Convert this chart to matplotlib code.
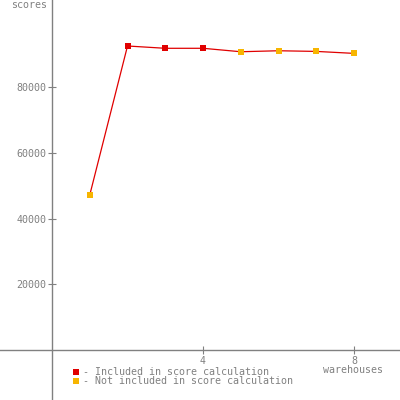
import matplotlib

matplotlib.use("Agg")
import matplotlib.pyplot as plt  # noqa: E402
from matplotlib.lines import Line2D  # noqa: E402

warehouses = [1, 2, 3, 4, 5, 6, 7, 8]
scores = [47200, 92600, 91900, 91900, 90850, 91150, 90950, 90350]
included = [False, True, True, True, False, False, False, False]

y_ticks = [20000, 40000, 60000, 80000]
x_ticks = [4, 8]

RED = "#e00000"
ORANGE = "#f7b500"
GRAY = "#808080"
FONT = "DejaVu Sans Mono"
FS = 7.2

fig = plt.figure(figsize=(4, 4), dpi=100)
ax = fig.add_axes([0, 0, 1, 1])
ax.set_xlim(-52 / 37.75, 348 / 37.75)
ax.set_ylim(-50 / 3.283 * 1000, 350 / 3.283 * 1000)

ax.plot(warehouses, scores, color=RED, lw=0.9, zorder=2)
for x, y, inc in zip(warehouses, scores, included):
    ax.plot(x, y, marker="s", ms=4.2, mew=0, color=RED if inc else ORANGE, zorder=3)

for side in ("top", "right"):
    ax.spines[side].set_visible(False)
for side in ("left", "bottom"):
    ax.spines[side].set_position("zero")
    ax.spines[side].set_color(GRAY)
    ax.spines[side].set_linewidth(1.0)

ax.set_yticks(y_ticks)
ax.set_yticklabels([str(v) for v in y_ticks], family=FONT, fontsize=FS, color=GRAY)
ax.set_xticks(x_ticks)
ax.set_xticklabels([str(v) for v in x_ticks], family=FONT, fontsize=FS, color=GRAY)
ax.tick_params(direction="inout", length=6, width=0.8, color=GRAY, pad=1)

fig.text(47 / 400, 1.0, "scores", ha="right", va="top",
         family=FONT, fontsize=FS, color=GRAY)
fig.text(353 / 400, 1 - 370 / 400, "warehouses", ha="center", va="center",
         family=FONT, fontsize=FS, color=GRAY)

# hand-made legend
legend = [(RED, "- Included in score calculation", 372),
          (ORANGE, "- Not included in score calculation", 380.5)]
for col, label, ypx in legend:
    fig.add_artist(Line2D([76 / 400], [1 - ypx / 400], marker="s", ms=4.2, mew=0,
                          color=col, transform=fig.transFigure))
    fig.text(83 / 400, 1 - ypx / 400, label, ha="left", va="center",
             family=FONT, fontsize=FS, color=GRAY)

fig.savefig("out.png", dpi=100, facecolor="white")
